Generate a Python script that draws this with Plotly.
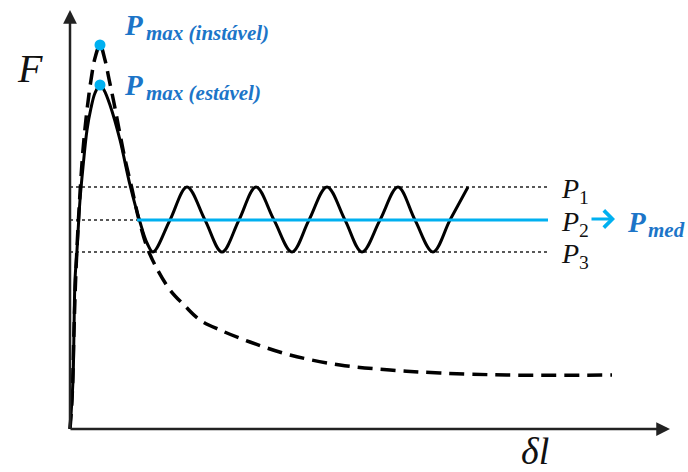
import plotly.graph_objects as go

# Diagram units: origin at the axes corner, delta-l to the right, F upwards
solid_x = [0, 3, 4, 5, 7, 10, 13, 17, 21, 25, 30, 34, 40, 50, 60, 70, 77, 83,
           100, 117, 135, 152, 169, 186, 204, 222, 239, 257, 275, 292, 310, 328,
           345, 363, 380, 398]
solid_F = [0, 49, 99, 149, 179, 229, 262, 299, 321, 336, 344, 339, 324, 289, 244, 207, 186, 177,
           209, 242, 209, 177, 209, 242, 209, 177, 209, 242, 209, 177, 209, 242,
           209, 177, 209, 242]

dash_x = [0, 2, 4, 6, 9, 13, 17, 21, 25, 30, 35, 39, 44, 49, 55, 62, 69, 77, 85,
          100, 115, 130, 150, 180, 220, 270, 320, 370, 437, 542]
dash_F = [0, 29, 99, 159, 219, 279, 319, 349, 371, 384, 369, 350, 326, 300, 270, 240, 209, 182, 164,
          139, 123, 109, 99, 87, 74, 64, 59, 56, 54, 54]

P1, P2, P3 = 242, 209, 177
level_end = 478
p2_blue_start = 67
pmax_unstable = (30, 384)
pmax_stable = (30, 344)

BLUE = "#00B0F0"
TEXT_BLUE = "#1C75C8"

fig = go.Figure()

# reference levels
for lvl in (P1, P3):
    fig.add_trace(go.Scatter(x=[0, level_end], y=[lvl, lvl], mode="lines",
                             line=dict(color="#222", width=1.6, dash="dot"),
                             hoverinfo="skip", showlegend=False))
fig.add_trace(go.Scatter(x=[0, p2_blue_start], y=[P2, P2], mode="lines",
                         line=dict(color="#222", width=1.6, dash="dot"),
                         hoverinfo="skip", showlegend=False))

# unstable (dashed) curve
fig.add_trace(go.Scatter(x=dash_x, y=dash_F, mode="lines", line_shape="spline",
                         line=dict(color="black", width=3.5, dash="15px,8px"),
                         hoverinfo="skip", showlegend=False))
# stable (solid) curve
fig.add_trace(go.Scatter(x=solid_x, y=solid_F, mode="lines", line_shape="spline",
                         line=dict(color="black", width=3),
                         hoverinfo="skip", showlegend=False))
# mean level
fig.add_trace(go.Scatter(x=[p2_blue_start, level_end], y=[P2, P2], mode="lines",
                         line=dict(color=BLUE, width=3),
                         hoverinfo="skip", showlegend=False))
# Pmax dots
fig.add_trace(go.Scatter(x=[pmax_unstable[0], pmax_stable[0]],
                         y=[pmax_unstable[1], pmax_stable[1]], mode="markers",
                         marker=dict(color=BLUE, size=11),
                         hoverinfo="skip", showlegend=False))

# axes arrows
fig.add_annotation(x=0, y=419, ax=0, ay=-1, xref="x", yref="y", axref="x", ayref="y",
                   showarrow=True, arrowhead=2, arrowsize=1.1, arrowwidth=2.5,
                   arrowcolor="#222", text="")
fig.add_annotation(x=600, y=0, ax=-1, ay=0, xref="x", yref="y", axref="x", ayref="y",
                   showarrow=True, arrowhead=2, arrowsize=1.1, arrowwidth=2.5,
                   arrowcolor="#222", text="")
# P2 -> Pmed arrow
fig.add_annotation(x=545, y=210, ax=520, ay=210, xref="x", yref="y", axref="x", ayref="y",
                   showarrow=True, arrowhead=4, arrowsize=1.1, arrowwidth=3,
                   arrowcolor=BLUE, text="")

serif = "Liberation Serif"
fig.add_annotation(x=-40, y=361, text="<i>F</i>", showarrow=False,
                   font=dict(family=serif, size=40, color="#111"))
fig.add_annotation(x=465, y=-22, text="<i>δl</i>", showarrow=False, yanchor="middle",
                   font=dict(family=serif, size=38, color="#111"))

# Blue labels: main letter + subscript as separate texts
blue_labels = [
    # (x, y, main, sub_x, sub_y, sub, sub_size)
    (52, 404, "P", 74, 396, "max (instável)", 21),
    (52, 344, "P", 74, 336, "max (estável)", 21),
    (555, 207, "P", 576, 199, "med", 21),
]
for x, y, main, sx, sy, sub, ssize in blue_labels:
    fig.add_annotation(x=x, y=y, xanchor="left", showarrow=False,
                       text=f"<b><i>{main}</i></b>",
                       font=dict(family=serif, size=29, color=TEXT_BLUE))
    fig.add_annotation(x=sx, y=sy, xanchor="left", showarrow=False,
                       text=f"<b><i>{sub}</i></b>",
                       font=dict(family=serif, size=ssize, color=TEXT_BLUE))

for lbl, lvl in (("1", P1), ("2", P2), ("3", P3)):
    fig.add_annotation(x=489, y=lvl - 3, xanchor="left", showarrow=False,
                       text=f"<i>P</i><sub>{lbl}</sub>",
                       font=dict(family=serif, size=28, color="#111"))

fig.update_layout(width=688, height=472, margin=dict(l=0, r=0, t=0, b=0),
                  paper_bgcolor="white", plot_bgcolor="white",
                  xaxis=dict(range=[-70, 618], visible=False),
                  yaxis=dict(range=[-43, 429], visible=False))
fig.write_html("out.html")
